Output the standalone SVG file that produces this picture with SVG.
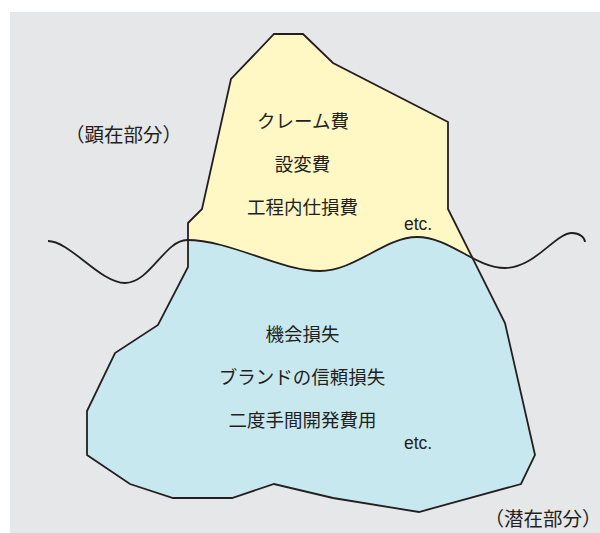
<svg xmlns="http://www.w3.org/2000/svg" width="600" height="533" viewBox="0 0 600 533">
  <style>
    .jp { font-family: "Noto Sans CJK JP", "Noto Sans", sans-serif; font-size: 18.5px; fill: #231f20; text-anchor: middle; }
    .side { font-size: 19.5px; }
    .en { font-family: "Liberation Sans", Arial, sans-serif; font-size: 17.5px; fill: #231f20; }
    .line { fill: none; stroke: #231f20; stroke-width: 1.8; stroke-linejoin: miter; }
  </style>
  <defs>
    <clipPath id="above">
      <path d="M0,0 L0,241 L48,241 C70,241 100,283 125,283 C150,283 165,240 187,240 C230,240 280,271 320,271 C355,271 385,237 417,237 C450,237 475,268 505,268 C535,268 555,233 572,233 C580,233 585,238 585,242 L600,242 L600,0 Z"/>
    </clipPath>
    <polygon id="outline" points="188,223 202,209 231,79 274,34 303,34 333,63 448,122 448,209 505,323 535,455 521,484 419,512 333,498 274,484 232,498 173,498 130,484 87,455 87,411 115,353 158,325 188,267"/>
  </defs>
  <rect x="10" y="12" width="590" height="521" fill="#e6e7e9"/>
  <g id="latent">
    <use href="#outline" fill="#c8e8f0"/>
  </g>
  <g id="visible">
    <use href="#outline" fill="#fff8c4" clip-path="url(#above)"/>
  </g>
  <g id="connectors">
    <use href="#outline" class="line"/>
    <path class="line" d="M48,241 C70,241 100,283 125,283 C150,283 165,240 187,240 C230,240 280,271 320,271 C355,271 385,237 417,237 C450,237 475,268 505,268 C535,268 555,233 572,233 C580,233 585,238 585,242"/>
  </g>
  <g id="labels-visible">
    <text class="jp side" x="123.5" y="141.5">（顕在部分）</text>
    <text class="jp" x="303" y="128">クレーム費</text>
    <text class="jp" x="302.5" y="171">設変費</text>
    <text class="jp" x="302.5" y="214">工程内仕損費</text>
    <text class="en" x="404" y="230">etc.</text>
  </g>
  <g id="labels-latent">
    <text class="jp" x="302.5" y="341">機会損失</text>
    <text class="jp" x="302" y="384">ブランドの信頼損失</text>
    <text class="jp" x="302.5" y="427">二度手間開発費用</text>
    <text class="en" x="404" y="449">etc.</text>
    <text class="jp side" x="543" y="526">（潜在部分）</text>
  </g>
</svg>
